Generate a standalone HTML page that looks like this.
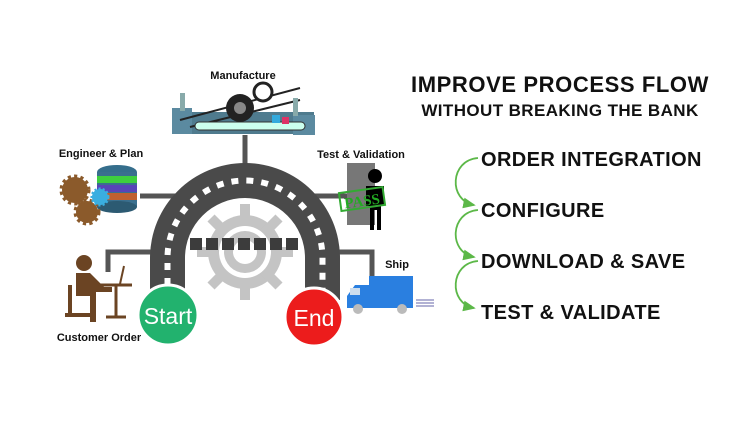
<!DOCTYPE html>
<html><head><style>
html,body{margin:0;padding:0;background:#fff;}
svg{display:block;}
text{font-family:"Liberation Sans",sans-serif;font-weight:bold;fill:#111;}
</style></head><body>
<svg width="750" height="422" viewBox="0 0 750 422">
<defs><marker id="ah" markerWidth="8" markerHeight="8" refX="6" refY="4" orient="auto"><path d="M0,1 L7,4 L0,7 z" fill="#5cb848"/></marker></defs>
<g stroke="#555" stroke-width="5" fill="none">
<line x1="245" y1="135" x2="245" y2="166"/>
<line x1="140" y1="196" x2="178" y2="196"/>
<line x1="312" y1="196" x2="348" y2="196"/>
<path d="M108,272 V252 H155"/>
<path d="M335,252 H372 V276"/>
</g>
<path d="M150,300 V258 A95,95 0 0 1 340,258 V300 H305 V258 A60,60 0 0 0 185,258 V300 Z" fill="#4a4a4a"/>
<path d="M167.5,300 V258 A77.5,77.5 0 0 1 322.5,258 V300" fill="none" stroke="#fff" stroke-width="6" stroke-dasharray="7,8"/>
<g fill="#c4c4c4">
<circle cx="245" cy="252" r="37"/>
<g stroke="#c4c4c4" stroke-width="10">
<line x1="245" y1="204" x2="245" y2="300"/><line x1="197" y1="252" x2="293" y2="252"/>
<line x1="211" y1="218" x2="279" y2="286"/><line x1="279" y1="218" x2="211" y2="286"/>
</g>
<circle cx="245" cy="252" r="26" fill="#fff"/><circle cx="245" cy="252" r="21" fill="#c4c4c4"/><circle cx="245" cy="252" r="12" fill="#fff"/>
</g>
<g fill="#3c3c3c">
<rect x="190" y="238" width="12" height="12"/><rect x="206" y="238" width="12" height="12"/><rect x="222" y="238" width="12" height="12"/><rect x="238" y="238" width="12" height="12"/><rect x="254" y="238" width="12" height="12"/><rect x="270" y="238" width="12" height="12"/><rect x="286" y="238" width="12" height="12"/>
</g>
<circle cx="168" cy="315" r="30" fill="#22b26e" stroke="#fff" stroke-width="3"/>
<text x="168" y="324" text-anchor="middle" style="font-weight:normal;fill:#fff;font-size:23px">Start</text>
<circle cx="314" cy="317" r="29" fill="#ec1c1c" stroke="#fff" stroke-width="3"/>
<text x="314" y="326" text-anchor="middle" style="font-weight:normal;fill:#fff;font-size:23px">End</text>
<rect x="172" y="112" width="142" height="22" fill="#4f7b8e"/>
<rect x="172" y="108" width="20" height="26" fill="#5b8aa0"/>
<rect x="293" y="115" width="22" height="20" fill="#5b8aa0"/>
<path d="M180,120 L300,88 M190,127 L300,100" stroke="#222" stroke-width="2"/>
<rect x="195" y="122" width="110" height="8" rx="4" fill="#cfe" stroke="#333"/>
<circle cx="240" cy="108" r="14" fill="#222"/><circle cx="240" cy="108" r="6" fill="#888"/>
<circle cx="263" cy="92" r="9" fill="#fff" stroke="#222" stroke-width="3"/>
<rect x="180" y="93" width="5" height="18" fill="#8aa"/><rect x="293" y="98" width="5" height="18" fill="#8aa"/>
<rect x="272" y="115" width="8" height="8" fill="#3ad"/><rect x="282" y="117" width="7" height="7" fill="#d36"/>
<ellipse cx="117" cy="172" rx="20" ry="7" fill="#356e8c"/>
<rect x="97" y="172" width="40" height="35" fill="#3a6f8e"/>
<rect x="97" y="176" width="40" height="7" fill="#3ecf3e"/>
<rect x="97" y="185" width="40" height="7" fill="#5844b8"/>
<rect x="97" y="193" width="40" height="7" fill="#c06030"/>
<ellipse cx="117" cy="207" rx="20" ry="6" fill="#2c5a72"/>
<circle cx="75" cy="190" r="13" fill="#8b5a2b" stroke="#8b5a2b" stroke-width="5" stroke-dasharray="3,3"/>
<circle cx="87" cy="212" r="11" fill="#8b5a2b" stroke="#8b5a2b" stroke-width="5" stroke-dasharray="3,3"/>
<circle cx="100" cy="197" r="8" fill="#3aaee0" stroke="#3aaee0" stroke-width="3" stroke-dasharray="2,2"/>
<rect x="347" y="163" width="28" height="62" fill="#777"/>
<circle cx="375" cy="176" r="7" fill="#000"/>
<path d="M366,186 h18 v20 h-3 v24 h-4 v-20 h-3 v20 h-4 v-24 h-4 z" fill="#000"/>
<rect x="340" y="190" width="44" height="18" fill="none" stroke="#3a3" stroke-width="2" transform="rotate(-8 362 199)"/>
<text x="344" y="206" style="font-family:'Liberation Serif',serif;font-size:15px;fill:#2a2" transform="rotate(-8 362 199)">PASS</text>
<circle cx="84" cy="263" r="8" fill="#6b4423"/>
<path d="M76,273 h14 l14,14 h8 v5 h-16 v30 h-6 v-26 h-14 z" fill="#6b4423"/>
<path d="M70,285 v28 M65,315 h25" stroke="#6b4423" stroke-width="4"/>
<path d="M100,285 h32 M116,285 v32 M106,317 h20" stroke="#6b4423" stroke-width="3"/>
<path d="M124,266 l-4,18" stroke="#6b4423" stroke-width="2"/>
<rect x="369" y="276" width="44" height="32" fill="#2a7fe0"/>
<path d="M347,296 l8,-11 h14 v23 h-22 z" fill="#2a7fe0"/>
<rect x="350" y="288" width="10" height="7" fill="#cde"/>
<circle cx="358" cy="309" r="5" fill="#bbb"/><circle cx="402" cy="309" r="5" fill="#bbb"/>
<path d="M416,300 h18 M416,303 h18 M416,306 h18" stroke="#66a" stroke-width="1"/>
<text x="243" y="79" text-anchor="middle" font-size="11">Manufacture</text>
<text x="101" y="157" text-anchor="middle" font-size="11">Engineer &amp; Plan</text>
<text x="361" y="158" text-anchor="middle" font-size="11">Test &amp; Validation</text>
<text x="397" y="268" text-anchor="middle" font-size="11">Ship</text>
<text x="99" y="341" text-anchor="middle" font-size="11">Customer Order</text>
<text x="560" y="92" text-anchor="middle" font-size="22" letter-spacing="0.6">IMPROVE PROCESS FLOW</text>
<text x="560" y="116" text-anchor="middle" font-size="17" letter-spacing="0.4">WITHOUT BREAKING THE BANK</text>
<text x="481" y="166" font-size="20" letter-spacing="0.4">ORDER INTEGRATION</text>
<text x="481" y="217" font-size="20" letter-spacing="0.4">CONFIGURE</text>
<text x="481" y="268" font-size="20" letter-spacing="0.4">DOWNLOAD &amp; SAVE</text>
<text x="481" y="319" font-size="20" letter-spacing="0.4">TEST &amp; VALIDATE</text>
<g fill="none" stroke="#5cb848" stroke-width="1.8" marker-end="url(#ah)">
<path d="M478,158 C450,160 448,200 474,205"/>
<path d="M478,210 C450,212 448,252 474,257"/>
<path d="M478,261 C450,263 448,303 474,308"/>
</g>
</svg>
</body></html>
